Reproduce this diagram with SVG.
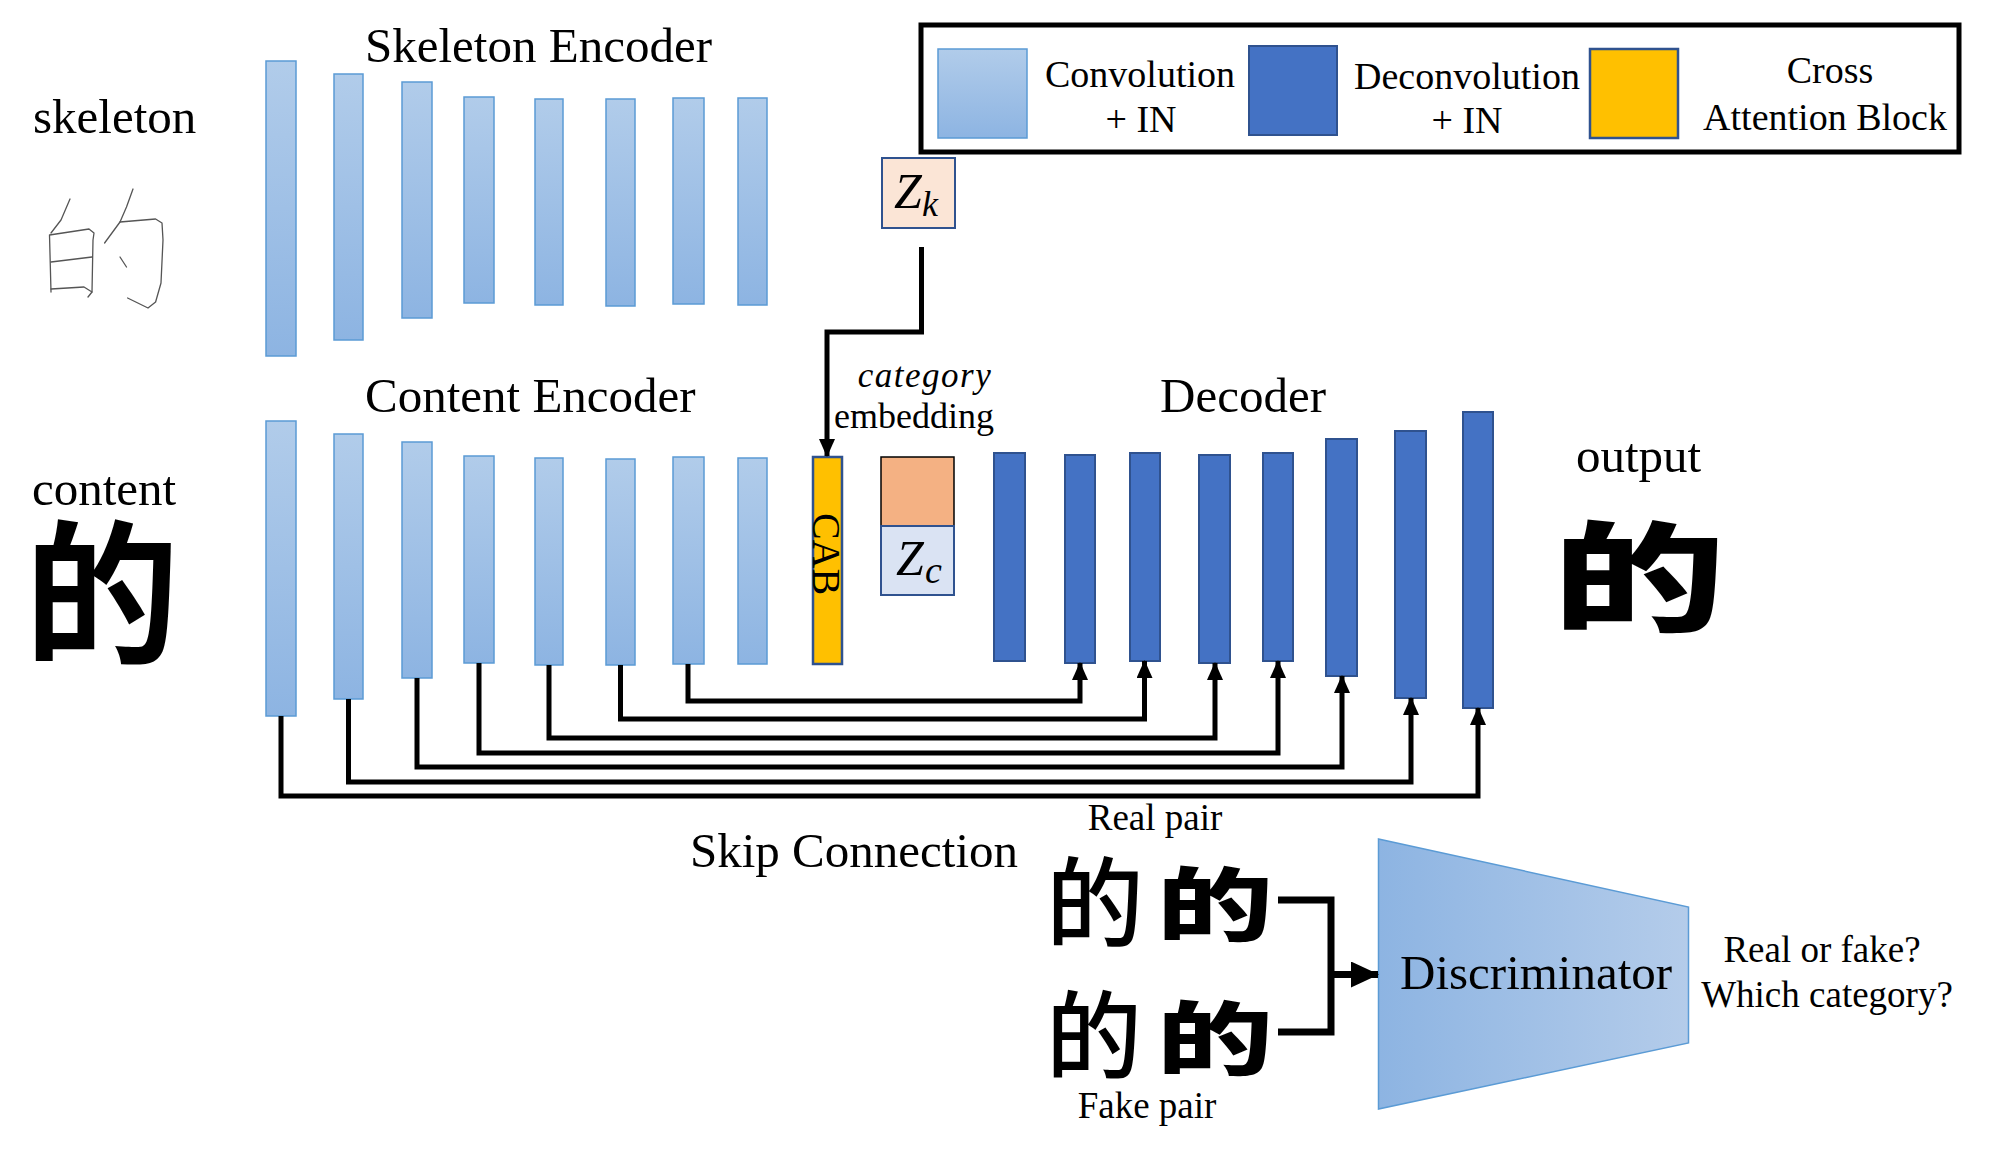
<svg xmlns="http://www.w3.org/2000/svg" width="1989" height="1151" viewBox="0 0 1989 1151">
<style>
.conv{fill:url(#gConv);stroke:#5B9BD5;stroke-width:1.5}
.deconv{fill:#4472C4;stroke:#2F528F;stroke-width:2}
.cab{fill:#FFC000;stroke:#2F528F;stroke-width:2.5}
.lbl{font-family:"Liberation Serif","Times New Roman",serif;fill:#000}
.big{font-size:49px}
.mid{font-size:38px}
.sm{font-size:37px}
.cjk{font-family:"Noto Sans CJK SC",sans-serif;fill:#000}
.wire{fill:none;stroke:#000;stroke-width:5}
.sk{fill:none;stroke:#555;stroke-width:1.3;stroke-linecap:round;stroke-linejoin:round}
</style>
<defs>
<linearGradient id="gConv" x1="0" y1="0" x2="0" y2="1">
<stop offset="0" stop-color="#B1CCEA"/>
<stop offset="1" stop-color="#8DB4E2"/>
</linearGradient>
<linearGradient id="gDisc" x1="0" y1="0" x2="1" y2="0">
<stop offset="0" stop-color="#8DB4E2"/>
<stop offset="1" stop-color="#B4CCEA"/>
</linearGradient>
<marker id="arr" viewBox="0 0 18 16" refX="17" refY="8" markerWidth="18" markerHeight="16" markerUnits="userSpaceOnUse" orient="auto">
<path d="M0,0 L18,8 L0,16 z" fill="#000"/>
</marker>
<marker id="arrBig" viewBox="0 0 28 26" refX="27" refY="13" markerWidth="28" markerHeight="26" markerUnits="userSpaceOnUse" orient="auto">
<path d="M0,0 L28,13 L0,26 z" fill="#000"/>
</marker>
</defs>
<rect width="1989" height="1151" fill="#fff"/>

<!-- Legend -->
<g id="legend">
<rect x="921" y="25" width="1038" height="127" fill="#fff" stroke="#000" stroke-width="5"/>
<rect class="conv" x="938" y="49" width="89" height="89"/>
<text class="lbl mid" x="1140" y="87" text-anchor="middle">Convolution</text>
<text class="lbl mid" x="1141" y="132" text-anchor="middle">+ IN</text>
<rect class="deconv" x="1249" y="46" width="88" height="89"/>
<text class="lbl mid" x="1467" y="89" text-anchor="middle">Deconvolution</text>
<text class="lbl mid" x="1467" y="133" text-anchor="middle">+ IN</text>
<rect class="cab" x="1590" y="49" width="88" height="89"/>
<text class="lbl mid" x="1830" y="83" text-anchor="middle">Cross</text>
<text class="lbl mid" x="1825" y="130" text-anchor="middle">Attention Block</text>
</g>

<!-- Skeleton input -->
<g id="skeleton-input">
<text class="lbl big" x="33" y="133">skeleton</text>
<path class="sk" d="M70,199 L61,220 L51,233"/>
<path class="sk" d="M49.5,235 L51,292 M49.5,235 L89,229 L94,233 L93,240 L92,292 L88,297"/>
<path class="sk" d="M51,262 L92,257 M51,289 L84,287 L92,292"/>
<path class="sk" d="M133,189 L126.5,207 L120,222 L104.6,243"/>
<path class="sk" d="M120,222 L155.6,219 L162,223 L163,240 L161,283 L155.6,302 L148,308 L127.6,298"/>
<path class="sk" d="M120,257 L126.5,267"/>
</g>

<!-- Skeleton Encoder -->
<g id="skeleton-encoder">
<text class="lbl big" x="365" y="62">Skeleton Encoder</text>
<rect class="conv" x="266" y="61" width="30" height="295"/>
<rect class="conv" x="334" y="74" width="29" height="266"/>
<rect class="conv" x="402" y="82" width="30" height="236"/>
<rect class="conv" x="464" y="97" width="30" height="206"/>
<rect class="conv" x="535" y="99" width="28" height="206"/>
<rect class="conv" x="606" y="99" width="29" height="207"/>
<rect class="conv" x="673" y="98" width="31" height="206"/>
<rect class="conv" x="738" y="98" width="29" height="207"/>
</g>

<!-- Zk -->
<g id="zk">
<rect x="882" y="158" width="73" height="70" fill="#FBE5D6" stroke="#2F528F" stroke-width="2"/>
<text class="lbl" x="894" y="208" font-size="50" font-style="italic">Z</text>
<text class="lbl" x="922" y="216" font-size="36" font-style="italic">k</text>
</g>

<!-- Content input -->
<g id="content-input">
<text class="lbl big" x="32" y="505">content</text>
<text class="cjk" x="102" y="651" font-size="155" font-weight="700" text-anchor="middle">的</text>
</g>

<!-- Content Encoder -->
<g id="content-encoder">
<text class="lbl big" x="365" y="412">Content Encoder</text>
<rect class="conv" x="266" y="421" width="30" height="295"/>
<rect class="conv" x="334" y="434" width="29" height="265"/>
<rect class="conv" x="402" y="442" width="30" height="236"/>
<rect class="conv" x="464" y="456" width="30" height="207"/>
<rect class="conv" x="535" y="458" width="28" height="207"/>
<rect class="conv" x="606" y="459" width="29" height="206"/>
<rect class="conv" x="673" y="457" width="31" height="207"/>
<rect class="conv" x="738" y="458" width="29" height="206"/>
</g>

<!-- CAB -->
<g id="cab">
<rect class="cab" x="813" y="457" width="29" height="207"/>
<text class="lbl" font-size="40" text-anchor="middle" transform="translate(827,554) rotate(90)" x="0" y="14">CAB</text>
</g>

<!-- Category embedding -->
<g id="category-embedding">
<text class="lbl" x="925" y="387" font-size="35" font-style="italic" letter-spacing="1.5" text-anchor="middle">category</text>
<text class="lbl" x="914" y="428" font-size="36" text-anchor="middle">embedding</text>
<rect x="881" y="457" width="73" height="69" fill="#F4B183" stroke="#000" stroke-width="1.5"/>
<rect x="881" y="526" width="73" height="69" fill="#DAE3F3" stroke="#2F528F" stroke-width="2"/>
<text class="lbl" x="896" y="575" font-size="50" font-style="italic">Z</text>
<text class="lbl" x="925" y="583" font-size="38" font-style="italic">c</text>
</g>

<!-- Decoder -->
<g id="decoder">
<text class="lbl big" x="1160" y="412">Decoder</text>
<rect class="deconv" x="994" y="453" width="31" height="208"/>
<rect class="deconv" x="1065" y="455" width="30" height="208"/>
<rect class="deconv" x="1130" y="453" width="30" height="208"/>
<rect class="deconv" x="1199" y="455" width="31" height="208"/>
<rect class="deconv" x="1263" y="453" width="30" height="208"/>
<rect class="deconv" x="1326" y="439" width="31" height="237"/>
<rect class="deconv" x="1395" y="431" width="31" height="267"/>
<rect class="deconv" x="1463" y="412" width="30" height="296"/>
</g>

<!-- Output -->
<g id="output">
<text class="lbl big" x="1576" y="472">output</text>
<text class="cjk" font-size="119" font-weight="900" text-anchor="middle" transform="translate(1639,622) scale(1.45,1)" x="0" y="0">的</text>
</g>

<!-- Pairs -->
<g id="real-pair">
<text class="lbl sm" x="1155" y="830" text-anchor="middle">Real pair</text>
<text class="cjk" x="1095" y="939" font-size="98" font-weight="500" text-anchor="middle">的</text>
<text class="cjk" font-size="80" font-weight="900" text-anchor="middle" transform="translate(1215,934) scale(1.45,1)" x="0" y="0">的</text>
</g>
<g id="fake-pair">
<text class="cjk" x="1094" y="1071" font-size="96" font-weight="500" text-anchor="middle">的</text>
<text class="cjk" font-size="80" font-weight="900" text-anchor="middle" transform="translate(1215,1068) scale(1.45,1)" x="0" y="0">的</text>
<text class="lbl sm" x="1147" y="1118" text-anchor="middle">Fake pair</text>
</g>

<!-- Discriminator -->
<g id="discriminator">
<polygon points="1378.5,839 1688.5,907 1688.5,1043 1378.5,1109" fill="url(#gDisc)" stroke="#5B9BD5" stroke-width="1.5"/>
<text class="lbl big" x="1400" y="989">Discriminator</text>
</g>
<g id="disc-output">
<text class="lbl sm" x="1822" y="962" text-anchor="middle">Real or fake?</text>
<text class="lbl sm" x="1827" y="1007" text-anchor="middle">Which category?</text>
</g>

<!-- Skip label -->
<g id="skip-label">
<text class="lbl big" x="690" y="867">Skip Connection</text>
</g>

<!-- Connectors -->
<g id="connectors">
<path class="wire" d="M921.5,247 V332 H827 V456" marker-end="url(#arr)"/>
<path class="wire" d="M688,664 V701 H1080 V663" marker-end="url(#arr)"/>
<path class="wire" d="M620.5,665 V719 H1144.5 V661" marker-end="url(#arr)"/>
<path class="wire" d="M549,665 V738 H1215 V663" marker-end="url(#arr)"/>
<path class="wire" d="M479,663 V753 H1278 V661" marker-end="url(#arr)"/>
<path class="wire" d="M417,678 V767 H1342 V676" marker-end="url(#arr)"/>
<path class="wire" d="M348.5,699 V782 H1411 V698" marker-end="url(#arr)"/>
<path class="wire" d="M281,716 V796 H1478 V708" marker-end="url(#arr)"/>
<path fill="none" stroke="#000" stroke-width="7" d="M1278,900 H1331 V1032 H1278"/>
<path fill="none" stroke="#000" stroke-width="7" d="M1331,974.5 H1378" marker-end="url(#arrBig)"/>
</g>
</svg>
